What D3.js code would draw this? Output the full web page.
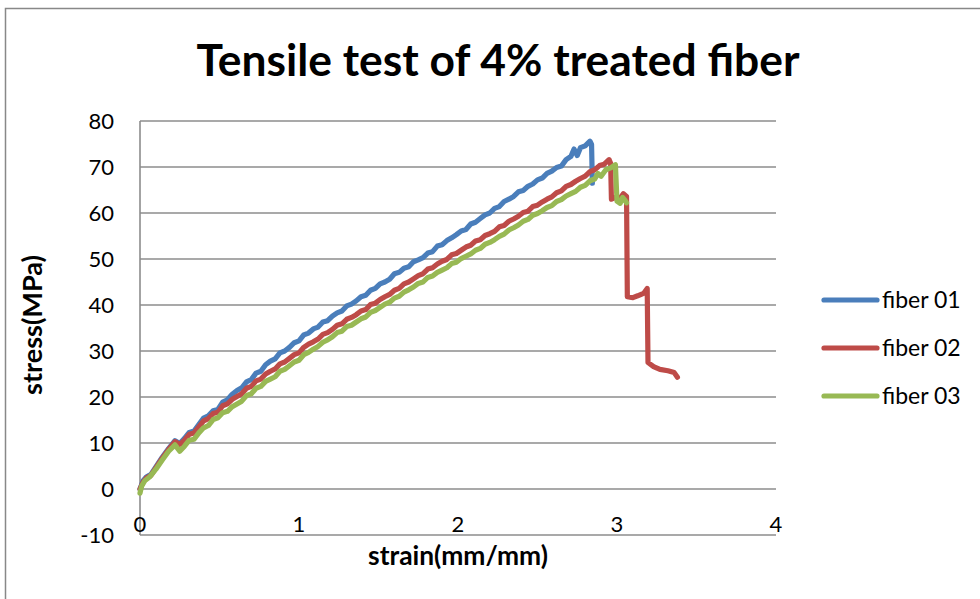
<!DOCTYPE html>
<html>
<head>
<meta charset="utf-8">
<script src="https://cdn.jsdelivr.net/npm/d3@7"></script>
<style>
  body { margin: 0; background: #fff; }
  svg { display: block; font-family: Lato, "Open Sans", sans-serif; }
</style>
</head>
<body>
<svg id="chart"></svg>
<script>
// chart values
var seriesNames = ["fiber 01", "fiber 02", "fiber 03"];
var seriesColors = ["#4a7ebb", "#be4b48", "#98b954"];
var xTicks = [0, 1, 2, 3, 4];
var yTicks = [-10, 0, 10, 20, 30, 40, 50, 60, 70, 80];

// [strain, stress]
var fiber01 = [
  [0,0],[0.02,1.8],[0.04,2.6],[0.07,3.2],[0.10,4.8],[0.14,6.9],[0.18,8.8],[0.22,10.5],[0.25,9.9],
  [0.28,11.0],[0.31,12.3],[0.34,12.6],[0.37,14.0],[0.40,15.4],[0.43,15.9],[0.46,17.0],[0.49,17.3],
  [0.52,18.9],[0.55,19.4],[0.58,20.6],[0.61,21.4],[0.64,22.0],[0.67,23.3],[0.70,23.8],[0.73,25.2],
  [0.76,25.6],[0.79,27.0],[0.82,27.8],[0.85,28.3],[0.88,29.6],[0.91,30.0],[0.94,30.8],[0.97,31.8],
  [1.00,32.2],[1.03,33.5],[1.06,33.9],[1.09,34.8],[1.12,35.2],[1.15,36.3],[1.18,36.6],[1.21,37.6],
  [1.24,38.3],[1.27,38.7],[1.30,39.8],[1.33,40.2],[1.36,40.9],[1.39,41.8],[1.42,42.1],[1.45,43.2],
  [1.48,43.6],[1.51,44.6],[1.54,45.0],[1.57,45.6],[1.60,46.8],[1.63,47.1],[1.66,48.0],[1.69,48.3],
  [1.72,49.4],[1.75,49.8],[1.78,50.3],[1.81,51.3],[1.84,51.6],[1.87,52.8],[1.90,53.1],[1.93,54.0],
  [1.96,54.6],[1.99,55.3],[2.02,56.1],[2.05,56.4],[2.08,57.6],[2.11,58.0],[2.14,58.8],[2.17,59.6],
  [2.20,60.0],[2.23,61.0],[2.26,61.4],[2.29,62.5],[2.32,63.0],[2.35,63.6],[2.38,64.6],[2.41,64.9],
  [2.44,65.8],[2.47,66.3],[2.50,67.2],[2.53,67.6],[2.56,68.6],[2.59,69.1],[2.62,69.9],[2.65,70.2],
  [2.68,71.6],[2.71,72.3],[2.73,73.9],[2.75,72.5],[2.77,74.2],[2.80,74.6],[2.83,75.6],[2.84,74.9],
  [2.845,66.5]
];

var fiber02 = [
  [0,0],[0.02,1.5],[0.04,2.4],[0.07,3.0],[0.10,4.6],[0.14,6.7],[0.18,8.6],[0.22,10.3],[0.25,9.7],
  [0.28,10.6],[0.31,11.9],[0.34,12.2],[0.37,13.5],[0.40,14.8],[0.43,15.3],[0.46,16.4],[0.49,16.7],
  [0.52,18.1],[0.55,18.5],[0.58,19.5],[0.61,20.1],[0.64,20.7],[0.67,21.9],[0.70,22.3],[0.73,23.5],
  [0.76,23.9],[0.79,25.0],[0.82,25.6],[0.85,26.1],[0.88,27.2],[0.91,27.6],[0.94,28.4],[0.97,29.2],
  [1.00,29.6],[1.03,30.8],[1.06,31.5],[1.09,32.0],[1.12,32.6],[1.15,33.6],[1.18,34.0],[1.21,34.7],
  [1.24,35.6],[1.27,35.9],[1.30,36.9],[1.33,37.3],[1.36,37.9],[1.39,38.7],[1.42,39.0],[1.45,40.1],
  [1.48,40.4],[1.51,41.2],[1.54,41.8],[1.57,42.3],[1.60,43.2],[1.63,43.6],[1.66,44.6],[1.69,45.0],
  [1.72,45.7],[1.75,46.4],[1.78,46.8],[1.81,47.8],[1.84,48.1],[1.87,48.9],[1.90,49.5],[1.93,49.9],
  [1.96,50.9],[1.99,51.2],[2.02,51.9],[2.05,52.6],[2.08,53.0],[2.11,53.9],[2.14,54.2],[2.17,55.1],
  [2.20,55.5],[2.23,56.0],[2.26,57.0],[2.29,57.3],[2.32,58.2],[2.35,58.7],[2.38,59.3],[2.41,60.1],
  [2.44,60.4],[2.47,61.4],[2.50,61.7],[2.53,62.4],[2.56,63.0],[2.59,63.5],[2.62,64.4],[2.65,64.8],
  [2.68,65.8],[2.71,66.2],[2.74,66.9],[2.77,67.5],[2.80,68.0],[2.83,69.0],[2.86,69.4],[2.89,70.3],
  [2.92,70.6],[2.95,71.6],[2.96,70.8],[2.965,63.0],[2.99,63.4],[3.02,63.2],[3.04,64.2],[3.06,63.6],
  [3.065,41.8],[3.10,41.6],[3.13,42.0],[3.17,42.6],[3.19,43.6],[3.195,27.5],[3.23,26.6],[3.27,26.0],
  [3.32,25.7],[3.36,25.3],[3.38,24.3]
];

var fiber03 = [
  [0,-0.9],[0.01,0.6],[0.03,1.8],[0.06,2.6],[0.10,4.3],[0.14,6.3],[0.18,8.2],[0.22,9.6],[0.25,8.2],
  [0.28,9.3],[0.31,10.6],[0.34,10.8],[0.37,12.2],[0.40,13.3],[0.43,13.8],[0.46,15.1],[0.49,15.5],
  [0.52,16.6],[0.55,16.9],[0.58,17.9],[0.61,18.5],[0.64,19.1],[0.67,20.3],[0.70,20.7],[0.73,21.9],
  [0.76,22.3],[0.79,23.4],[0.82,23.9],[0.85,24.4],[0.88,25.6],[0.91,26.0],[0.94,26.8],[0.97,27.6],
  [1.00,28.0],[1.03,29.2],[1.06,29.7],[1.09,30.4],[1.12,31.0],[1.15,31.9],[1.18,32.4],[1.21,33.1],
  [1.24,34.0],[1.27,34.3],[1.30,35.3],[1.33,35.6],[1.36,36.3],[1.39,37.0],[1.42,37.4],[1.45,38.4],
  [1.48,38.8],[1.51,39.5],[1.54,40.2],[1.57,40.6],[1.60,41.5],[1.63,41.9],[1.66,42.8],[1.69,43.3],
  [1.72,43.9],[1.75,44.7],[1.78,45.0],[1.81,46.0],[1.84,46.3],[1.87,47.1],[1.90,47.6],[1.93,48.1],
  [1.96,49.0],[1.99,49.3],[2.02,50.1],[2.05,50.6],[2.08,51.1],[2.11,51.9],[2.14,52.3],[2.17,53.2],
  [2.20,53.6],[2.23,54.2],[2.26,54.9],[2.29,55.4],[2.32,56.3],[2.35,56.8],[2.38,57.4],[2.41,58.2],
  [2.44,58.6],[2.47,59.5],[2.50,59.9],[2.53,60.5],[2.56,61.2],[2.59,61.6],[2.62,62.5],[2.65,62.9],
  [2.68,63.7],[2.71,64.2],[2.74,64.7],[2.77,65.6],[2.80,66.0],[2.83,67.0],[2.86,67.4],[2.88,68.6],
  [2.90,68.0],[2.93,69.4],[2.96,69.8],[2.99,70.5],[3.00,62.6],[3.02,62.1],[3.035,63.4],[3.05,62.8],
  [3.06,62.2]
];

var allSeries = [fiber01, fiber02, fiber03];

// sizes
var width = 980;
var height = 599;
var plot = {left: 140, right: 776, top: 121, bottom: 535};

var svg = d3.select("#chart")
    .attr("width", width)
    .attr("height", height);

// outer chart frame
svg.append("rect")
    .attr("x", 5.5)
    .attr("y", 8.5)
    .attr("width", width + 10)
    .attr("height", height + 10)
    .attr("fill", "#fff")
    .attr("stroke", "#888")
    .attr("stroke-width", 1.5);

var xScale = d3.scaleLinear()
    .domain([0, 4])
    .range([plot.left, plot.right]);

var yScale = d3.scaleLinear()
    .domain([-10, 80])
    .range([plot.bottom, plot.top]);

// horizontal gridlines
svg.append("g")
  .selectAll("line")
  .data(yTicks)
  .enter()
  .append("line")
    .attr("x1", plot.left)
    .attr("x2", plot.right)
    .attr("y1", d => yScale(d))
    .attr("y2", d => yScale(d))
    .attr("stroke", "#8c8c8c")
    .attr("stroke-width", 1.6);

// y axis line
svg.append("line")
    .attr("x1", plot.left)
    .attr("x2", plot.left)
    .attr("y1", plot.top)
    .attr("y2", plot.bottom)
    .attr("stroke", "#8c8c8c")
    .attr("stroke-width", 1.6);

// y tick labels
svg.append("g")
  .selectAll("text")
  .data(yTicks)
  .enter()
  .append("text")
    .attr("x", 114)
    .attr("y", d => yScale(d))
    .attr("dy", "0.36em")
    .style("text-anchor", "end")
    .style("font-size", "22px")
    .attr("fill", "#000")
    .text(d => d);

// x tick labels (Excel puts them just above the bottom line)
svg.append("g")
  .selectAll("text")
  .data(xTicks)
  .enter()
  .append("text")
    .attr("x", d => xScale(d))
    .attr("y", 524)
    .attr("dy", "0.36em")
    .style("text-anchor", "middle")
    .style("font-size", "22px")
    .attr("fill", "#000")
    .text(d => d);

// the three curves
var line = d3.line()
    .x(d => xScale(d[0]))
    .y(d => yScale(d[1]));

svg.append("g")
  .selectAll("path")
  .data(allSeries)
  .enter()
  .append("path")
    .attr("d", line)
    .attr("fill", "none")
    .attr("stroke", (d, i) => seriesColors[i])
    .attr("stroke-width", 5.2)
    .attr("stroke-linejoin", "round")
    .attr("stroke-linecap", "round");

// scale a text's font size so it takes the width it has in the picture
function fitWidth(sel, size, target) {
  sel.style("font-size", size + "px");
  var w = sel.node().getComputedTextLength();
  sel.style("font-size", (size * target / w) + "px");
}

var title = svg.append("text")
    .attr("x", 498)
    .attr("y", 76)
    .style("text-anchor", "middle")
    .style("font-weight", "bold")
    .text("Tensile test of 4% treated fiber");
fitWidth(title, 44, 603);

// axis titles
var xTitle = svg.append("text")
    .attr("x", 458)
    .attr("y", 565)
    .style("text-anchor", "middle")
    .style("font-weight", "bold")
    .text("strain(mm/mm)");
fitWidth(xTitle, 20, 180);

var yTitle = svg.append("text")
    .attr("transform", "rotate(-90)")
    .attr("x", -325)
    .attr("y", 42)
    .style("text-anchor", "middle")
    .style("font-weight", "bold")
    .text("stress(MPa)");
fitWidth(yTitle, 20, 140);

// legend
var legend = svg.append("g")
  .selectAll("g")
  .data(seriesNames)
  .enter()
  .append("g")
    .attr("transform", (d, i) => "translate(0," + (300 + i * 48) + ")");

legend.append("line")
    .attr("x1", 824)
    .attr("x2", 877)
    .attr("stroke", (d, i) => seriesColors[i])
    .attr("stroke-width", 5.2)
    .attr("stroke-linecap", "round");

legend.append("text")
    .attr("x", 882)
    .attr("dy", "0.36em")
    .style("font-size", "23px")
    .text(d => d);
</script>
</body>
</html>
